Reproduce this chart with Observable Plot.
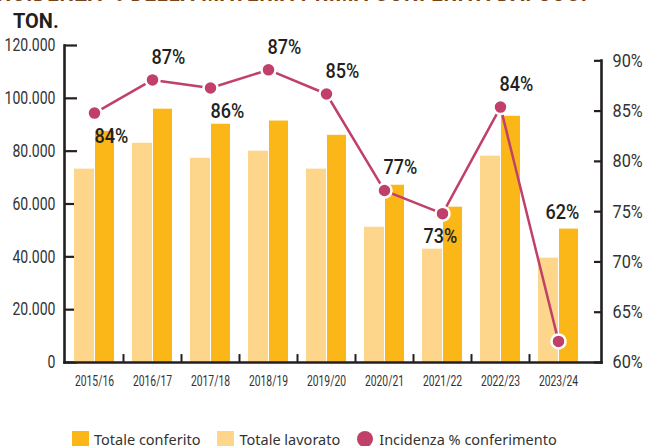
<!DOCTYPE html>
<html><head><meta charset="utf-8">
<script src="https://cdn.jsdelivr.net/npm/d3@7"></script>
<script src="https://cdn.jsdelivr.net/npm/@observablehq/plot@0.6"></script>
<style>
body{margin:0;background:#fff;width:646px;height:446px;overflow:hidden;position:relative;font-family:Roboto,sans-serif}
#title{position:absolute;z-index:2;top:-21px;left:-10px;white-space:nowrap;font-weight:bold;font-size:24px;line-height:28px;color:#7b4318;letter-spacing:1px;transform:scaleX(0.85);transform-origin:0 0}
#unit{position:absolute;top:9px;left:13px;font-weight:bold;font-size:21px;color:#231f20;transform:scaleX(0.95);transform-origin:0 0}
#chart{position:absolute;top:0;left:0}
#legend{position:absolute;top:429px;left:72px;display:flex;align-items:center;font-family:"Noto Sans",sans-serif;font-size:14.5px;color:#333;white-space:nowrap}
.sw{display:inline-block;width:17px;height:17px;margin-right:5px}
.ci{display:inline-block;width:16px;height:16px;border-radius:50%;background:#C0406A;margin-right:6px}
.it{display:flex;align-items:center;margin-right:17px}
</style></head>
<body>
<div id="chart"></div>
<div id="title">INCIDENZA % DELLA MATERIA PRIMA CONFERITA DAI SOCI</div>
<div id="unit">TON.</div>
<div id="legend">
  <span class="it"><span class="sw" style="background:#FBB718"></span>Totale conferito</span>
  <span class="it"><span class="sw" style="background:#FDD68B"></span>Totale lavorato</span>
  <span class="it"><span class="ci"></span>Incidenza % conferimento</span>
</div>
<script>
const anni = ["2015/16","2016/17","2017/18","2018/19","2019/20","2020/21","2021/22","2022/23","2023/24"];
const totaleConferito = [87500, 95900, 90200, 91400, 86000, 67100, 58800, 93200, 50500];
const totaleLavorato = [73200, 83000, 77300, 80000, 73200, 51200, 42900, 78100, 39500];
const incidenza = [84.8, 88.1, 87.3, 89.1, 86.7, 77.1, 74.8, 85.4, 62.1];
const etichette = ["84%","87%","86%","87%","85%","77%","73%","84%","62%"];
const posizione = ["sotto","sopra","sotto","sopra","sopra","sopra","sotto-c","sopra","barra"];
const tickTon = [0, 20000, 40000, 60000, 80000, 100000, 120000];
const tickPct = [60, 65, 70, 75, 80, 85, 90];

const tonPerPct = 114200 / 30;
const pctToTon = p => (p - 60) * tonPerPct;
const data = anni.map((a, i) => ({anno: a, conferito: totaleConferito[i], lavorato: totaleLavorato[i], pct: incidenza[i], label: etichette[i], pos: posizione[i]}));

const ink = "#231f20";
const txt = "#333333";
const magenta = "#C0406A";
const fmtTon = d => d === 0 ? "0" : d3.format(",")(d).replace(/,/g, ".");

const chart = Plot.plot({
  width: 646,
  height: 400,
  marginLeft: 64,
  marginRight: 45,
  marginTop: 45,
  marginBottom: 38,
  style: {fontFamily: "Roboto, sans-serif", background: "transparent"},
  x: {type: "band", domain: anni, padding: 0, range: [64.5, 587], label: null, axis: null},
  y: {domain: [0, 120000], label: null, axis: null},
  marks: [
    Plot.axisY(tickTon, {anchor: "left", tickSize: -13, tickPadding: 22, tickFormat: fmtTon, fontSize: 18, color: txt, stroke: ink, strokeWidth: 2.2, label: null}),
    Plot.axisY(tickPct.map(pctToTon), {anchor: "right", tickSize: -8, tickPadding: 19, tickFormat: d => Math.round(d / tonPerPct + 60) + "%", fontSize: 18.5, color: txt, stroke: ink, strokeWidth: 2.2, label: null}),
    Plot.axisX({tickSize: 0, tickPadding: 14, fontSize: 14, color: txt, label: null}),
    Plot.barY(data, {x: "anno", y: "lavorato", fill: "#FDD68B", insetLeft: 9, insetRight: 29}),
    Plot.barY(data, {x: "anno", y: "conferito", fill: "#FBB718", insetLeft: 30, insetRight: 9}),
    Plot.ruleX(anni.slice(1), {x: d => d, dx: -29, y1: 0, y2: 3000, stroke: ink, strokeWidth: 2}),
    Plot.frame({anchor: "left", stroke: ink, strokeWidth: 2.6}),
    Plot.frame({anchor: "right", stroke: ink, strokeWidth: 2.6, insetTop: 15}),
    Plot.frame({anchor: "bottom", stroke: ink, strokeWidth: 2.6}),
    Plot.line(data, {x: "anno", y: d => pctToTon(d.pct), stroke: magenta, strokeWidth: 2.5}),
    Plot.dot(data, {x: "anno", y: d => pctToTon(d.pct), r: 7, fill: magenta, stroke: "white", strokeWidth: 2.5}),
    Plot.text(data.filter(d => d.pos === "sopra"), {x: "anno", y: d => pctToTon(d.pct), text: "label", dx: 16, dy: -23, fontSize: 21, fontWeight: 500, fill: ink}),
    Plot.text(data.filter(d => d.pos === "sotto"), {x: "anno", y: d => pctToTon(d.pct), text: "label", dx: 17, dy: 23, fontSize: 21, fontWeight: 500, fill: ink}),
    Plot.text(data.filter(d => d.pos === "sotto-c"), {x: "anno", y: d => pctToTon(d.pct), text: "label", dx: -2, dy: 23, fontSize: 21, fontWeight: 500, fill: ink}),
    Plot.text(data.filter(d => d.pos === "barra"), {x: "anno", y: "conferito", text: "label", dx: 4, dy: -17, fontSize: 21, fontWeight: 500, fill: ink})
  ]
});
document.getElementById("chart").appendChild(chart);

// condensed look: horizontal squeeze of each text around its own anchor
const squeeze = {"18px": 0.78, "18.5px": 0.88, "14px": 0.74, "21px": 0.86};
chart.querySelectorAll("text").forEach(t => {
  const s = squeeze[getComputedStyle(t).fontSize];
  if (!s) return;
  const x = parseFloat(t.getAttribute("x") || 0) || 0;
  const tr = t.getAttribute("transform") || "";
  t.setAttribute("transform", `${tr} translate(${x},0) scale(${s},1) translate(${-x},0)`);
});
</script>
</body></html>
